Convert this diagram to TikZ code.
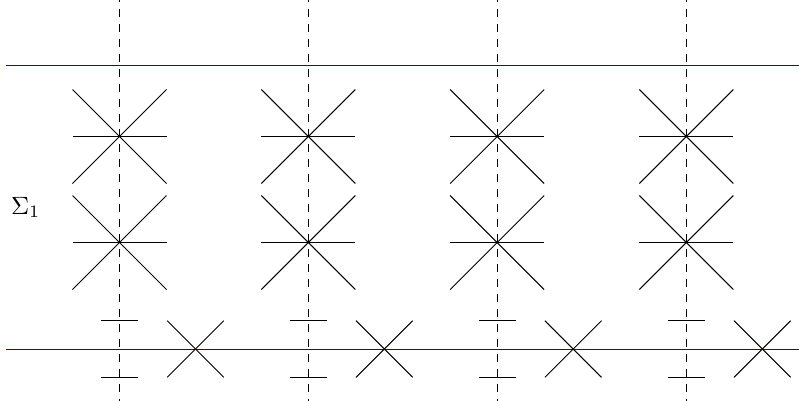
\documentclass[tikz,border=0pt]{standalone}
\begin{document}
\begin{tikzpicture}[x=0.4pt,y=-0.4pt,
  axisline/.style={dash pattern=on 3pt off 3pt, line width=0.4pt},
  sheet/.style={blue, line width=0.4pt},
  starline/.style={black, line width=0.4pt}]
\useasboundingbox (0,0) rectangle (799,400);
% horizontal lines
\draw[sheet] (6,65.5) -- (799,65.5);
\draw[sheet] (6,349.2) -- (799,349.2);
% columns
\foreach \cx in {119.5,308.3,497.2,686.3}{
  \draw[axisline] (\cx,-6) -- (\cx,402);
  \foreach \cy in {136.5,242.5}{
    \draw[starline] (\cx-47,\cy-47) -- (\cx+47,\cy+47);
    \draw[starline] (\cx-47,\cy+47) -- (\cx+47,\cy-47);
    \draw[starline] (\cx-47,\cy) -- (\cx+47,\cy);
  }
  \draw[starline] (\cx-18.7,320.7) -- (\cx+18.7,320.7);
  \draw[starline] (\cx-18.7,377.3) -- (\cx+18.7,377.3);
  \draw[starline] (\cx+76-28.3,349-28.3) -- (\cx+76+28.3,349+28.3);
  \draw[starline] (\cx+76-28.3,349+28.3) -- (\cx+76+28.3,349-28.3);
}
\node[anchor=base west, inner sep=0pt] (sigma) at (10.5,214) {$\Sigma_1$};
\end{tikzpicture}
\end{document}
